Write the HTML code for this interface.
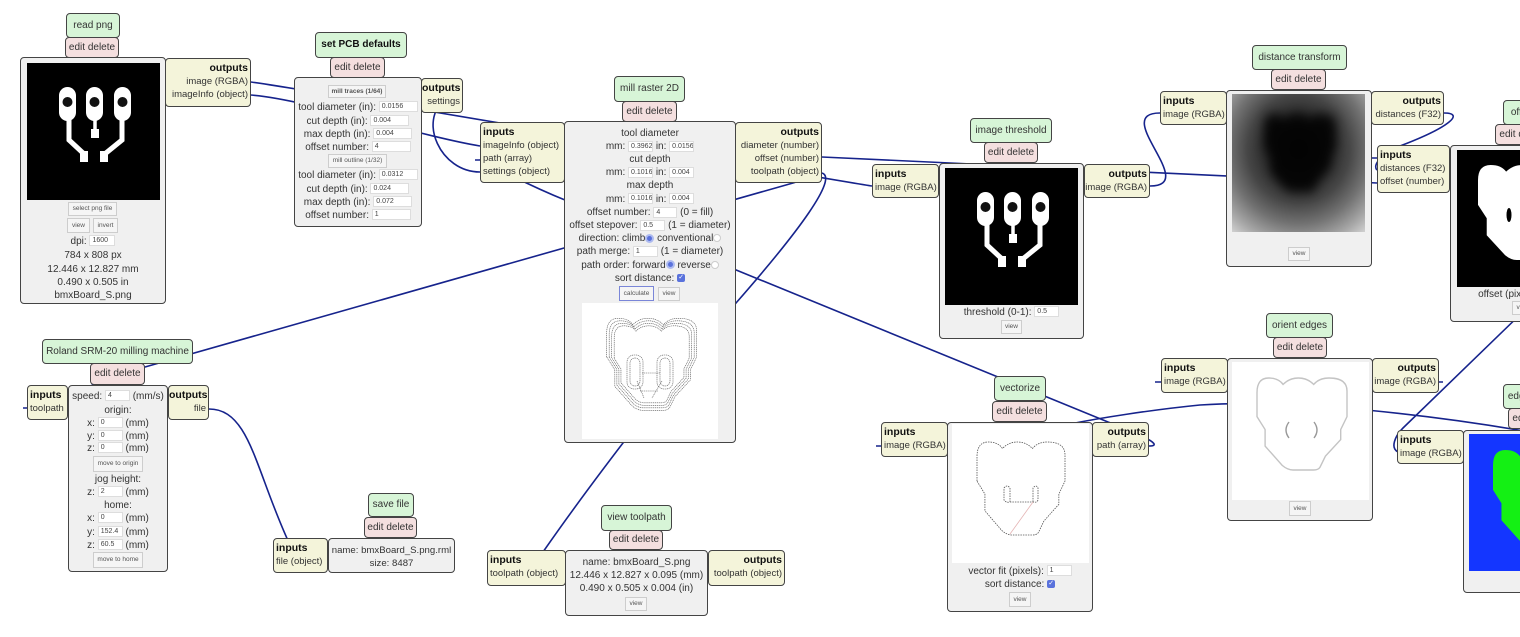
<!DOCTYPE html>
<html><head><meta charset="utf-8">
<style>
*{box-sizing:border-box}
body{margin:0;width:1520px;height:637px;overflow:hidden;background:#fff;position:relative;font-family:"Liberation Sans",Arial,sans-serif;font-size:10px;color:#333}
.n{position:absolute;border:1px solid #444;border-radius:4px;white-space:nowrap;overflow:hidden}
.ti{background:#d7f5d7;text-align:center;line-height:23px;height:25px}
.ed{background:#f4dfdf;text-align:center;line-height:19px;height:21px}
.bd{background:#f0f0f0}
.io{background:#f4f4da;font-size:9.5px;line-height:13px;padding-top:3px}
.io b{font-size:10.5px;color:#111}
.L{text-align:left;padding-left:2px}
.R{text-align:right;padding-right:2px}
.r{position:absolute;height:13px;line-height:13px;text-align:center;white-space:nowrap}
.in{display:inline-block;background:#fff;border:1px solid #ddd;font-size:7px;height:11px;line-height:9px;text-align:left;padding-left:2px;vertical-align:middle;overflow:hidden;color:#444}
.bt{position:absolute;background:#f5f5f5;border:1px solid #cdcdcd;font-size:6.5px;text-align:center;color:#555;white-space:nowrap}
.im{position:absolute;overflow:hidden}
.rs{display:inline-block;width:9px;height:9px;border-radius:50%;background:#5a72dc;border:2px solid #aebbf0;vertical-align:middle}
.ru{display:inline-block;width:8px;height:8px;border-radius:50%;background:#fff;border:1px solid #ccc;vertical-align:middle}
.cb{display:inline-block;width:8px;height:8px;border-radius:2px;background:#5a72dc;vertical-align:middle;color:#fff;font-size:7px;line-height:8px;text-align:center}
</style></head><body>

<svg style="position:absolute;left:0;top:0" width="1520" height="637" fill="none" stroke="#16238c" stroke-width="1.6">
<path d="M250 82 C270 83 850 183 872 186"/>
<path d="M250 95 C300 98 420 136 480 146"/>
<path d="M445 100 C418 120 440 172 480 172"/>
<path d="M822 157 C900 160 1300 180 1377 183"/>
<path d="M822 173 C838 178 800 230 736 303 C690 355 600 470 543 552"/>
<path d="M822 173 C810 176 800 181 793 183 L145 367 C100 380 60 400 27 408"/>
<path d="M1149 446 C1168 446 1130 430 1108 422 L565 200 C530 186 490 165 480 159"/>
<path d="M1150 186 C1200 186 1110 113 1160 113"/>
<path d="M1444 113 C1465 113 1450 127 1400 146 C1382 153 1372 165 1377 170"/>
<path d="M1530 305 L1403 428 C1395 436 1390 448 1398 452"/>
<path d="M1530 432 C1450 418 1300 398 1200 405 C1150 410 1100 418 1070 424"/>
<path d="M209 409 C250 409 255 470 290 545"/>
<path d="M1155 382 L1163 382 M876 446 L883 446 M475 160 L482 160 M1372 158 L1379 158 M1437 382 L1443 382 M23 408 L29 408"/>
</svg>

<!-- read png -->
<div class="n ed" style="left:65px;top:37px;width:54px">edit delete</div>
<div class="n ti" style="left:66px;top:13px;width:54px">read png</div>
<div class="n bd" style="left:20px;top:57px;width:146px;height:247px"></div>
<div class="im" style="left:27px;top:63px;width:133px;height:137px;background:#000">
<svg width="133" height="137" viewBox="0 0 133 137">
<g fill="#fff"><rect x="32" y="24" width="17" height="34" rx="8.5"/><rect x="59" y="24" width="17" height="34" rx="8.5"/><rect x="87" y="24" width="17" height="34" rx="8.5"/><rect x="53" y="88" width="8" height="11"/><rect x="64" y="66" width="8" height="9"/><rect x="73" y="88" width="8" height="11"/></g>
<g stroke="#fff" stroke-width="5" fill="none"><polyline points="42,55 42,77 56,90"/><polyline points="95,55 95,77 79,90"/></g>
<line x1="68" y1="55" x2="68" y2="68" stroke="#fff" stroke-width="3.5"/>
<g fill="#111"><circle cx="40.5" cy="39" r="5"/><circle cx="67.5" cy="39" r="5"/><circle cx="95.5" cy="39" r="5"/></g>
</svg></div>
<div class="bt" style="left:68px;top:202px;width:49px;height:14px;line-height:12px">select png file</div>
<div class="bt" style="left:67px;top:218px;width:23px;height:15px;line-height:13px">view</div>
<div class="bt" style="left:93px;top:218px;width:25px;height:15px;line-height:13px">invert</div>
<div class="r" style="left:20px;width:146px;top:234.5px">dpi: <span class="in" style="width:26px">1600</span></div>
<div class="r" style="left:20px;width:146px;top:248.5px">784 x 808 px</div>
<div class="r" style="left:20px;width:146px;top:262.5px">12.446 x 12.827 mm</div>
<div class="r" style="left:20px;width:146px;top:275.5px">0.490 x 0.505 in</div>
<div class="r" style="left:20px;width:146px;top:288.5px">bmxBoard_S.png</div>
<div class="n io R" style="left:165px;top:58px;width:86px;height:49px"><b>outputs</b><br>image (RGBA)<br>imageInfo (object)</div>

<!-- set PCB defaults -->
<div class="n ed" style="left:330px;top:57px;width:55px">edit delete</div>
<div class="n ti" style="left:315px;top:32px;width:92px;height:26px;font-weight:bold;color:#111">set PCB defaults</div>
<div class="n bd" style="left:294px;top:77px;width:128px;height:150px"></div>
<div class="bt" style="left:328px;top:85px;width:58px;height:13px;line-height:11px;font-weight:bold">mill traces (1/64)</div>
<div class="r" style="left:294px;width:128px;top:100.5px">tool diameter (in): <span class="in" style="width:39px">0.0156</span></div>
<div class="r" style="left:294px;width:128px;top:114.5px">cut depth (in): <span class="in" style="width:39px">0.004</span></div>
<div class="r" style="left:294px;width:128px;top:127.5px">max depth (in): <span class="in" style="width:39px">0.004</span></div>
<div class="r" style="left:294px;width:128px;top:140.5px">offset number: <span class="in" style="width:39px">4</span></div>
<div class="bt" style="left:328px;top:154px;width:59px;height:14px;line-height:12px">mill outline (1/32)</div>
<div class="r" style="left:294px;width:128px;top:168.5px">tool diameter (in): <span class="in" style="width:39px">0.0312</span></div>
<div class="r" style="left:294px;width:128px;top:182.5px">cut depth (in): <span class="in" style="width:39px">0.024</span></div>
<div class="r" style="left:294px;width:128px;top:195.5px">max depth (in): <span class="in" style="width:39px">0.072</span></div>
<div class="r" style="left:294px;width:128px;top:208.5px">offset number: <span class="in" style="width:39px">1</span></div>
<div class="n io R" style="left:421px;top:78px;width:42px;height:35px"><b>outputs</b><br>settings</div>

<!-- mill raster 2D -->
<div class="n ed" style="left:622px;top:101px;width:55px">edit delete</div>
<div class="n ti" style="left:614px;top:76px;width:71px;height:26px">mill raster 2D</div>
<div class="n bd" style="left:564px;top:121px;width:172px;height:322px"></div>
<div class="r" style="left:564px;width:172px;top:126.5px">tool diameter</div>
<div class="r" style="left:564px;width:172px;top:139.7px">mm: <span class="in" style="width:25px">0.39624</span> in: <span class="in" style="width:25px">0.0156</span></div>
<div class="r" style="left:564px;width:172px;top:152.9px">cut depth</div>
<div class="r" style="left:564px;width:172px;top:166.1px">mm: <span class="in" style="width:25px">0.1016</span> in: <span class="in" style="width:25px">0.004</span></div>
<div class="r" style="left:564px;width:172px;top:179.3px">max depth</div>
<div class="r" style="left:564px;width:172px;top:192.5px">mm: <span class="in" style="width:25px">0.1016</span> in: <span class="in" style="width:25px">0.004</span></div>
<div class="r" style="left:564px;width:172px;top:205.7px">offset number: <span class="in" style="width:24px">4</span> (0 = fill)</div>
<div class="r" style="left:564px;width:172px;top:218.9px">offset stepover: <span class="in" style="width:25px">0.5</span> (1 = diameter)</div>
<div class="r" style="left:564px;width:172px;top:232.1px">direction: climb<span class="rs"></span> conventional<span class="ru"></span></div>
<div class="r" style="left:564px;width:172px;top:245.3px">path merge: <span class="in" style="width:25px">1</span> (1 = diameter)</div>
<div class="r" style="left:564px;width:172px;top:258.5px">path order: forward<span class="rs"></span> reverse<span class="ru"></span></div>
<div class="r" style="left:564px;width:172px;top:271.7px">sort distance: <span class="cb">✓</span></div>
<div class="bt" style="left:619px;top:286px;width:35px;height:15px;line-height:13px;border-color:#7a86d8">calculate</div>
<div class="bt" style="left:658px;top:287px;width:22px;height:14px;line-height:12px">view</div>
<div class="im" style="left:582px;top:303px;width:136px;height:136px;background:#fff">
<svg width="136" height="136" viewBox="0 0 136 136" fill="none" stroke="#555" stroke-width="0.6" stroke-dasharray="1.2 0.7">
<path vector-effect="non-scaling-stroke" transform="translate(24.7 15.3) scale(0.9 0.92)" d="M0 42L0 16Q0 0 13 0Q24 0 29 7Q36 0 46 0Q56 0 63 7Q69 0 80 0Q100 0 100 14L100 42L93 56L93 67L76 85L70 97Q68 100 63 100L40 100Q34 100 28 95L9 74L9 56Z"/>
<path vector-effect="non-scaling-stroke" transform="translate(27.2 17.8) scale(0.85 0.87)" d="M0 42L0 16Q0 0 13 0Q24 0 29 7Q36 0 46 0Q56 0 63 7Q69 0 80 0Q100 0 100 14L100 42L93 56L93 67L76 85L70 97Q68 100 63 100L40 100Q34 100 28 95L9 74L9 56Z"/>
<path vector-effect="non-scaling-stroke" transform="translate(29.7 20.3) scale(0.8 0.82)" d="M0 42L0 16Q0 0 13 0Q24 0 29 7Q36 0 46 0Q56 0 63 7Q69 0 80 0Q100 0 100 14L100 42L93 56L93 67L76 85L70 97Q68 100 63 100L40 100Q34 100 28 95L9 74L9 56Z"/>
<path vector-effect="non-scaling-stroke" transform="translate(32.2 22.8) scale(0.75 0.77)" d="M0 42L0 16Q0 0 13 0Q24 0 29 7Q36 0 46 0Q56 0 63 7Q69 0 80 0Q100 0 100 14L100 42L93 56L93 67L76 85L70 97Q68 100 63 100L40 100Q34 100 28 95L9 74L9 56Z"/>
<rect x="45" y="52" width="16" height="34" rx="7"/><rect x="48" y="55" width="10" height="28" rx="5"/>
<rect x="75" y="52" width="16" height="34" rx="7"/><rect x="78" y="55" width="10" height="28" rx="5"/>
<path d="M55 78 L62 95 M80 78 L70 95 M60 70 L78 70 M58 88 L76 88"/>
</svg></div>
<div class="n io L" style="left:480px;top:122px;width:85px;height:61px"><b>inputs</b><br>imageInfo (object)<br>path (array)<br>settings (object)</div>
<div class="n io R" style="left:735px;top:122px;width:87px;height:61px"><b>outputs</b><br>diameter (number)<br>offset (number)<br>toolpath (object)</div>

<!-- image threshold -->
<div class="n ed" style="left:984px;top:142px;width:54px">edit delete</div>
<div class="n ti" style="left:970px;top:118px;width:82px">image threshold</div>
<div class="n bd" style="left:939px;top:163px;width:145px;height:176px"></div>
<div class="im" style="left:945px;top:168px;width:133px;height:137px;background:#000">
<svg width="133" height="137" viewBox="0 0 133 137">
<g fill="#fff"><rect x="32" y="24" width="17" height="34" rx="8.5"/><rect x="59" y="24" width="17" height="34" rx="8.5"/><rect x="87" y="24" width="17" height="34" rx="8.5"/><rect x="53" y="88" width="8" height="11"/><rect x="64" y="66" width="8" height="9"/><rect x="73" y="88" width="8" height="11"/></g>
<g stroke="#fff" stroke-width="5" fill="none"><polyline points="42,55 42,77 56,90"/><polyline points="95,55 95,77 79,90"/></g>
<line x1="68" y1="55" x2="68" y2="68" stroke="#fff" stroke-width="3.5"/>
<g fill="#111"><circle cx="40.5" cy="39" r="5"/><circle cx="67.5" cy="39" r="5"/><circle cx="95.5" cy="39" r="5"/></g>
</svg></div>
<div class="r" style="left:939px;width:145px;top:305.5px">threshold (0-1): <span class="in" style="width:25px">0.5</span></div>
<div class="bt" style="left:1001px;top:320px;width:21px;height:14px;line-height:12px">view</div>
<div class="n io L" style="left:872px;top:164px;width:67px;height:34px"><b>inputs</b><br>image (RGBA)</div>
<div class="n io R" style="left:1084px;top:164px;width:66px;height:34px"><b>outputs</b><br>image (RGBA)</div>

<!-- distance transform -->
<div class="n ed" style="left:1271px;top:69px;width:55px">edit delete</div>
<div class="n ti" style="left:1252px;top:45px;width:95px">distance transform</div>
<div class="n bd" style="left:1226px;top:90px;width:146px;height:177px"></div>
<div class="im" style="left:1232px;top:94px;width:133px;height:138px;background:radial-gradient(ellipse 80% 82% at 50% 40%,#151515 0%,#262626 28%,#464646 48%,#727272 66%,#a8a8a8 84%,#dedede 100%)">
<svg width="133" height="138"><defs><filter id="bl" x="-30%" y="-30%" width="160%" height="160%"><feGaussianBlur stdDeviation="7"/></filter></defs>
<path filter="url(#bl)" fill="#000" opacity="0.85" transform="translate(32 20) scale(0.72 0.78)" d="M0 42L0 16Q0 0 13 0Q24 0 29 7Q36 0 46 0Q56 0 63 7Q69 0 80 0Q100 0 100 14L100 42L93 56L93 67L76 85L70 97Q68 100 63 100L40 100Q34 100 28 95L9 74L9 56Z"/></svg></div>
<div class="bt" style="left:1288px;top:247px;width:22px;height:14px;line-height:12px">view</div>
<div class="n io L" style="left:1160px;top:91px;width:67px;height:34px"><b>inputs</b><br>image (RGBA)</div>
<div class="n io R" style="left:1371px;top:91px;width:73px;height:34px"><b>outputs</b><br>distances (F32)</div>

<!-- offset -->
<div class="n ed" style="left:1495px;top:124px;width:55px">edit delete</div>
<div class="n ti" style="left:1503px;top:100px;width:40px">offset</div>
<div class="n bd" style="left:1450px;top:145px;width:146px;height:177px"></div>
<div class="im" style="left:1457px;top:150px;width:133px;height:137px;background:#000">
<svg width="133" height="137"><path fill="#fff" transform="translate(21 15) scale(0.97 0.95)" d="M0 42L0 16Q0 0 13 0Q24 0 29 7Q36 0 46 0Q56 0 63 7Q69 0 80 0Q100 0 100 14L100 42L93 56L93 67L76 85L70 97Q68 100 63 100L40 100Q34 100 28 95L9 74L9 56Z"/><ellipse cx="52" cy="65" rx="2.5" ry="7" fill="#000"/></svg></div>
<div class="r" style="left:1450px;width:146px;top:287.5px">offset (pixels): <span class="in" style="width:25px"></span></div>
<div class="bt" style="left:1512px;top:301px;width:22px;height:14px;line-height:12px">view</div>
<div class="n io L" style="left:1377px;top:145px;width:73px;height:48px"><b>inputs</b><br>distances (F32)<br>offset (number)</div>

<!-- orient edges -->
<div class="n ed" style="left:1273px;top:337px;width:54px">edit delete</div>
<div class="n ti" style="left:1266px;top:313px;width:67px">orient edges</div>
<div class="n bd" style="left:1227px;top:358px;width:146px;height:163px"></div>
<div class="im" style="left:1232px;top:362px;width:137px;height:138px;background:#fff">
<svg width="137" height="138" fill="none" stroke="#c4c4c4" stroke-width="1.4"><path vector-effect="non-scaling-stroke" transform="translate(25 16) scale(0.9 0.92)" d="M0 42L0 16Q0 0 13 0Q24 0 29 7Q36 0 46 0Q56 0 63 7Q69 0 80 0Q100 0 100 14L100 42L93 56L93 67L76 85L70 97Q68 100 63 100L40 100Q34 100 28 95L9 74L9 56Z"/><path stroke="#999" d="M57 60 Q51 68 57 76 M82 60 Q88 68 82 76"/></svg></div>
<div class="bt" style="left:1289px;top:501px;width:22px;height:15px;line-height:13px">view</div>
<div class="n io L" style="left:1161px;top:358px;width:67px;height:35px"><b>inputs</b><br>image (RGBA)</div>
<div class="n io R" style="left:1372px;top:358px;width:67px;height:35px"><b>outputs</b><br>image (RGBA)</div>

<!-- edge detect -->
<div class="n ed" style="left:1508px;top:408px;width:55px">edit delete</div>
<div class="n ti" style="left:1503px;top:384px;width:62px">edge detect</div>
<div class="n bd" style="left:1463px;top:430px;width:146px;height:163px"></div>
<div class="im" style="left:1469px;top:434px;width:133px;height:137px;background:#1436ff">
<svg width="133" height="137"><path fill="#14f014" transform="translate(24 16) scale(0.94 0.95)" d="M0 42L0 16Q0 0 13 0Q24 0 29 7Q36 0 46 0Q56 0 63 7Q69 0 80 0Q100 0 100 14L100 42L93 56L93 67L76 85L70 97Q68 100 63 100L40 100Q34 100 28 95L9 74L9 56Z"/></svg></div>
<div class="n io L" style="left:1397px;top:430px;width:67px;height:34px"><b>inputs</b><br>image (RGBA)</div>

<!-- vectorize -->
<div class="n ed" style="left:992px;top:401px;width:55px">edit delete</div>
<div class="n ti" style="left:994px;top:376px;width:52px">vectorize</div>
<div class="n bd" style="left:947px;top:422px;width:146px;height:190px"></div>
<div class="im" style="left:952px;top:424px;width:137px;height:139px;background:#fff">
<svg width="137" height="139" fill="none" stroke="#555" stroke-width="0.8" stroke-dasharray="1.5 1"><path vector-effect="non-scaling-stroke" transform="translate(25 18) scale(0.88 0.93)" d="M0 42L0 16Q0 0 13 0Q24 0 29 7Q36 0 46 0Q56 0 63 7Q69 0 80 0Q100 0 100 14L100 42L93 56L93 67L76 85L70 97Q68 100 63 100L40 100Q34 100 28 95L9 74L9 56Z"/>
<path d="M58 78 L58 64 Q55 60 52 64 L52 76 Q54 79 58 78 L81 78 Q85 79 86 76 L86 64 Q84 60 81 64 L81 78"/>
<path stroke="#e4b4b4" stroke-dasharray="none" d="M81 78 L58 110"/></svg></div>
<div class="r" style="left:947px;width:146px;top:564.5px">vector fit (pixels): <span class="in" style="width:25px">1</span></div>
<div class="r" style="left:947px;width:146px;top:577.5px">sort distance: <span class="cb">✓</span></div>
<div class="bt" style="left:1009px;top:592px;width:22px;height:15px;line-height:13px">view</div>
<div class="n io L" style="left:881px;top:422px;width:67px;height:35px"><b>inputs</b><br>image (RGBA)</div>
<div class="n io R" style="left:1092px;top:422px;width:57px;height:35px"><b>outputs</b><br>path (array)</div>

<!-- Roland -->
<div class="n ed" style="left:90px;top:363px;width:55px;height:22px">edit delete</div>
<div class="n ti" style="left:42px;top:339px;width:151px">Roland SRM-20 milling machine</div>
<div class="n bd" style="left:68px;top:385px;width:100px;height:187px"></div>
<div class="r" style="left:68px;width:100px;top:389.5px">speed: <span class="in" style="width:25px">4</span> (mm/s)</div>
<div class="r" style="left:68px;width:100px;top:403.5px">origin:</div>
<div class="r" style="left:68px;width:100px;top:416.5px">x: <span class="in" style="width:25px">0</span> (mm)</div>
<div class="r" style="left:68px;width:100px;top:429.5px">y: <span class="in" style="width:25px">0</span> (mm)</div>
<div class="r" style="left:68px;width:100px;top:441.5px">z: <span class="in" style="width:25px">0</span> (mm)</div>
<div class="bt" style="left:93px;top:456px;width:50px;height:16px;line-height:14px">move to origin</div>
<div class="r" style="left:68px;width:100px;top:472.5px">jog height:</div>
<div class="r" style="left:68px;width:100px;top:485.5px">z: <span class="in" style="width:25px">2</span> (mm)</div>
<div class="r" style="left:68px;width:100px;top:498.5px">home:</div>
<div class="r" style="left:68px;width:100px;top:511.5px">x: <span class="in" style="width:25px">0</span> (mm)</div>
<div class="r" style="left:68px;width:100px;top:525.5px">y: <span class="in" style="width:25px">152.4</span> (mm)</div>
<div class="r" style="left:68px;width:100px;top:538.5px">z: <span class="in" style="width:25px">60.5</span> (mm)</div>
<div class="bt" style="left:93px;top:552px;width:50px;height:16px;line-height:14px">move to home</div>
<div class="n io L" style="left:27px;top:385px;width:41px;height:35px"><b>inputs</b><br>toolpath</div>
<div class="n io R" style="left:168px;top:385px;width:41px;height:35px"><b>outputs</b><br>file</div>

<!-- save file -->
<div class="n ed" style="left:364px;top:517px;width:53px">edit delete</div>
<div class="n ti" style="left:368px;top:493px;width:46px;height:24px;line-height:22px">save file</div>
<div class="n bd" style="left:328px;top:538px;width:127px;height:35px"></div>
<div class="r" style="left:328px;width:127px;top:543.5px;font-size:9.6px">name: bmxBoard_S.png.rml</div>
<div class="r" style="left:328px;width:127px;top:556.5px;font-size:9.6px">size: 8487</div>
<div class="n io L" style="left:273px;top:538px;width:55px;height:35px"><b>inputs</b><br>file (object)</div>

<!-- view toolpath -->
<div class="n ed" style="left:609px;top:530px;width:54px;height:20px;line-height:18px">edit delete</div>
<div class="n ti" style="left:601px;top:505px;width:71px;height:26px">view toolpath</div>
<div class="n bd" style="left:565px;top:550px;width:143px;height:66px"></div>
<div class="r" style="left:565px;width:143px;top:555.5px">name: bmxBoard_S.png</div>
<div class="r" style="left:565px;width:143px;top:568.5px">12.446 x 12.827 x 0.095 (mm)</div>
<div class="r" style="left:565px;width:143px;top:581.5px">0.490 x 0.505 x 0.004 (in)</div>
<div class="bt" style="left:625px;top:597px;width:22px;height:14px;line-height:12px">view</div>
<div class="n io L" style="left:487px;top:550px;width:79px;height:36px"><b>inputs</b><br>toolpath (object)</div>
<div class="n io R" style="left:708px;top:550px;width:77px;height:36px"><b>outputs</b><br>toolpath (object)</div>

</body></html>
